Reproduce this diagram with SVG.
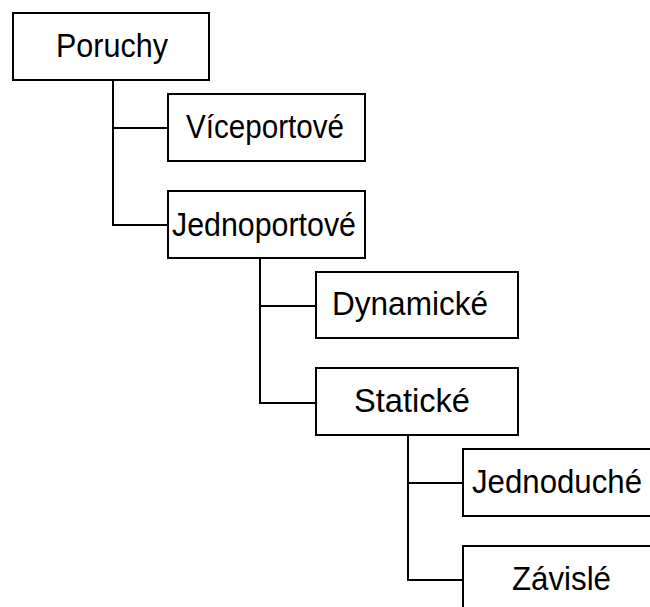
<svg xmlns="http://www.w3.org/2000/svg" width="650" height="607" viewBox="0 0 650 607">
<style>
.box{fill:#fff;stroke:#000;stroke-width:2}
.lbl{font-family:"Liberation Sans",Arial,sans-serif;font-size:33px;fill:#000}
.con{fill:none;stroke:#000;stroke-width:2}
</style>
<rect width="650" height="607" fill="#fff"/>
<g id="connectors">
<path class="con" d="M113 80 V225 H168 M113 128 H168"/>
<path class="con" d="M260 258 V403 H316 M260 306 H316"/>
<path class="con" d="M408 435 V580 H463 M408 483 H463"/>
</g>
<g id="poruchy"><rect class="box" x="13" y="13" width="196" height="67"/><text class="lbl" x="56" y="57" textLength="112" lengthAdjust="spacingAndGlyphs">Poruchy</text></g>
<g id="viceportove"><rect class="box" x="168" y="94" width="197" height="67"/><text class="lbl" x="186" y="138" textLength="158" lengthAdjust="spacingAndGlyphs">Víceportové</text></g>
<g id="jednoportove"><rect class="box" x="168" y="191" width="197" height="67"/><text class="lbl" x="172" y="236" textLength="184" lengthAdjust="spacingAndGlyphs">Jednoportové</text></g>
<g id="dynamicke"><rect class="box" x="316" y="272" width="202" height="66"/><text class="lbl" x="332" y="315" textLength="156" lengthAdjust="spacingAndGlyphs">Dynamické</text></g>
<g id="staticke"><rect class="box" x="316" y="368" width="202" height="67"/><text class="lbl" x="354" y="412" textLength="116" lengthAdjust="spacingAndGlyphs">Statické</text></g>
<g id="jednoduche"><rect class="box" x="463" y="449" width="192" height="67"/><text class="lbl" x="472" y="493" textLength="170" lengthAdjust="spacingAndGlyphs">Jednoduché</text></g>
<g id="zavisle"><rect class="box" x="463" y="546" width="192" height="70"/><text class="lbl" x="512" y="590" textLength="99" lengthAdjust="spacingAndGlyphs">Závislé</text></g>
</svg>
